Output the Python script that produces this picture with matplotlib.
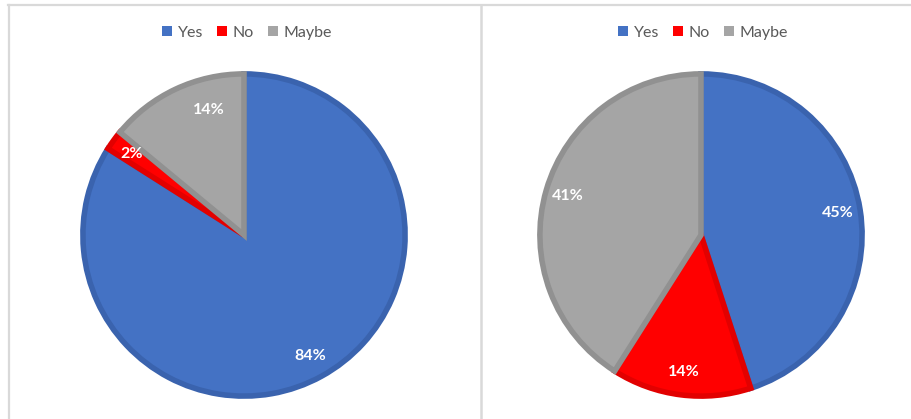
import matplotlib
matplotlib.use("Agg")
import matplotlib.pyplot as plt
from matplotlib.patches import Patch
from matplotlib.lines import Line2D

# Survey answers, shares in percent
categories = ["Yes", "No", "Maybe"]
left_values = [84, 2, 14]
right_values = [45, 14, 41]

fill_colors = ["#4472C4", "#FF0000", "#A5A5A5"]
edge_colors = ["#3A63AE", "#E20000", "#919191"]

W, H = 911, 419
fig = plt.figure(figsize=(W / 100, H / 100), dpi=100)
fig.patch.set_facecolor("white")

plt.rcParams["font.family"] = ["Lato", "DejaVu Sans"]


def px_axes(cx, cy, r):
    """Axes whose box is the square around a circle given in pixels (y from top)."""
    return fig.add_axes([(cx - r) / W, (H - cy - r) / H, 2 * r / W, 2 * r / H])


def draw_pie(ax, values):
    wedges, texts, autotexts = ax.pie(
        values,
        colors=fill_colors,
        startangle=90,
        counterclock=False,
        autopct="%d%%",
        pctdistance=0.86,
        wedgeprops=dict(linewidth=4.0, joinstyle="miter"),
        textprops=dict(color="white", fontsize=11.5, fontweight="bold"),
    )
    for w, ec in zip(wedges, edge_colors):
        w.set_edgecolor(ec)
    ax.set_xlim(-1.018, 1.018)
    ax.set_ylim(-1.018, 1.018)
    ax.set_aspect("equal")
    ax.axis("off")
    return autotexts


ax_l = px_axes(244, 235, 164)
labels_l = draw_pie(ax_l, left_values)
# the narrow-wedge neighbour label sits a little toward the wedge's middle
x, y = labels_l[2].get_position()
labels_l[2].set_position((x + 0.15, y))

ax_r = px_axes(701, 235, 164)
draw_pie(ax_r, right_values)

handles = [Patch(facecolor=c, edgecolor="none") for c in fill_colors]
for cx in (247, 703):
    fig.legend(
        handles, categories,
        loc="center", bbox_to_anchor=(cx / W, 1 - 33 / H),
        ncol=3, frameon=False, fontsize=11.5, labelcolor="#595959",
        handlelength=0.6, handleheight=0.6, handletextpad=0.35,
        columnspacing=0.9, borderaxespad=0,
    )

# Panel borders
border = "#D9D9D9"
fig.add_artist(Line2D([8 / W, 910 / W], [1 - 5.5 / H, 1 - 5.5 / H],
                      transform=fig.transFigure, color=border, linewidth=1.6))
fig.add_artist(Line2D([8.5 / W, 8.5 / W], [0, 1 - 5.5 / H],
                      transform=fig.transFigure, color=border, linewidth=1.6))
fig.add_artist(Line2D([481 / W, 481 / W], [0, 1 - 5.5 / H],
                      transform=fig.transFigure, color=border, linewidth=1.8))

fig.savefig("out.png", dpi=100, facecolor="white")
